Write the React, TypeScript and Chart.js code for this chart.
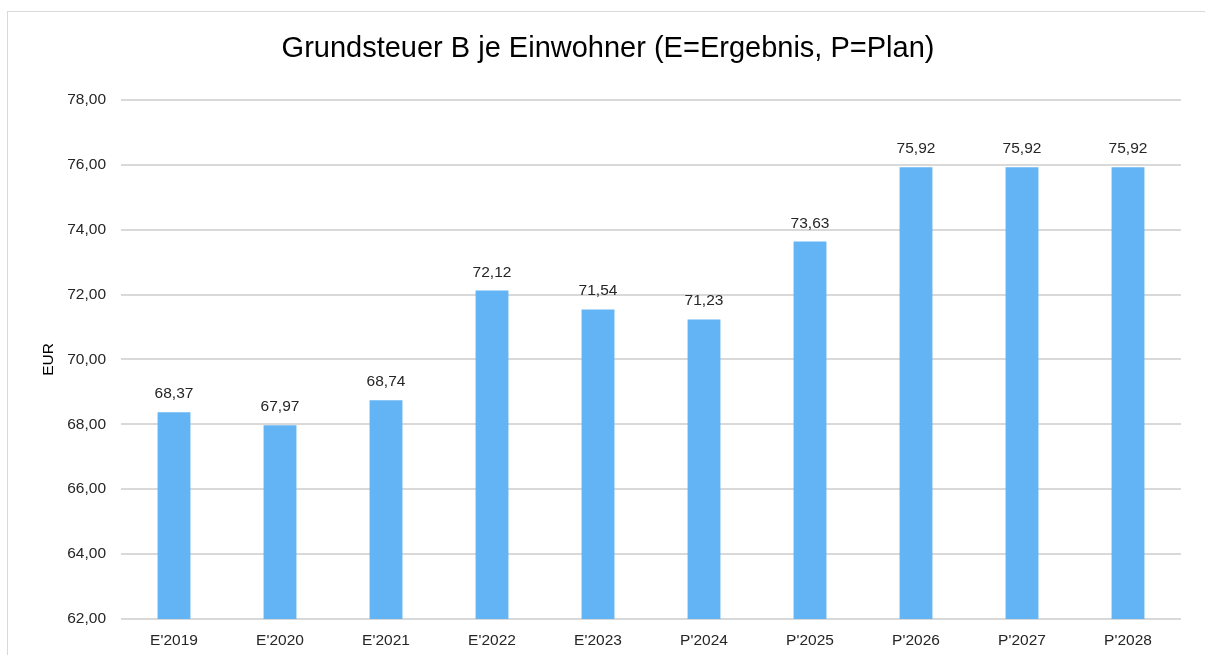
import React, { useEffect, useRef } from "react";
import { Chart, registerables } from "chart.js";

Chart.register(...registerables);

const categories = ["E'2019", "E'2020", "E'2021", "E'2022", "E'2023", "P'2024", "P'2025", "P'2026", "P'2027", "P'2028"];
const values = [68.37, 67.97, 68.74, 72.12, 71.54, 71.23, 73.63, 75.92, 75.92, 75.92];
const titleText = "Grundsteuer B je Einwohner (E=Ergebnis, P=Plan)";
const yAxisTitle = "EUR";
const yMin = 62;
const yMax = 78;
const yStep = 2;

const FONT = "'Liberation Sans', Arial, sans-serif";
const SMALL = 15.5;
const fmt = (v: number) => v.toFixed(2).replace(".", ",");

const framePlugin = {
  id: "frame",
  beforeDraw(chart: any) {
    const ctx = chart.ctx;
    ctx.save();
    ctx.fillStyle = "#ffffff";
    ctx.fillRect(0, 0, chart.width, chart.height);
    ctx.strokeStyle = "#d9d9d9";
    ctx.lineWidth = 1;
    ctx.strokeRect(7.5, 11.5, chart.width + 10, chart.height + 10);
    ctx.restore();
  },
};

const labelPlugin = {
  id: "valueLabels",
  afterDatasetsDraw(chart: any) {
    const ctx = chart.ctx;
    const meta = chart.getDatasetMeta(0);
    ctx.save();
    ctx.font = `${SMALL}px ${FONT}`;
    ctx.fillStyle = "#262626";
    ctx.textAlign = "center";
    ctx.textBaseline = "alphabetic";
    meta.data.forEach((bar: any, i: number) => {
      ctx.fillText(fmt(values[i]), bar.x, bar.y - 14);
    });
    ctx.restore();
  },
};

export default function App() {
  const ref = useRef<HTMLCanvasElement>(null);
  useEffect(() => {
    document.body.style.margin = "0";
    const chart = new Chart(ref.current!, {
      type: "bar",
      data: {
        labels: categories,
        datasets: [
          {
            data: values,
            backgroundColor: "#63b4f5",
            barPercentage: 0.31,
            categoryPercentage: 1,
          },
        ],
      },
      options: {
        responsive: false,
        animation: false,
        layout: { padding: { left: 35, right: 24, top: 0, bottom: 0 } },
        plugins: {
          legend: { display: false },
          tooltip: { enabled: false },
          title: {
            display: true,
            text: titleText,
            color: "#000000",
            font: { family: FONT, size: 29, weight: "normal" },
            padding: { top: 32, bottom: 33 },
          },
        },
        scales: {
          x: {
            grid: { display: false },
            border: { display: false },
            ticks: {
              color: "#262626",
              font: { family: FONT, size: SMALL },
              padding: 4,
              maxRotation: 0,
            },
            afterFit(scale: any) {
              scale.height = 36;
            },
          },
          y: {
            min: yMin,
            max: yMax,
            grid: { color: "#d9d9d9", lineWidth: 2, drawTicks: false },
            border: { display: false },
            ticks: {
              stepSize: yStep,
              color: "#262626",
              font: { family: FONT, size: SMALL },
              padding: 15,
              callback: (v: any) => fmt(Number(v)),
            },
            title: {
              display: true,
              text: yAxisTitle,
              color: "#000000",
              font: { family: FONT, size: SMALL },
              padding: { top: 4, bottom: 0 },
            },
            afterFit(scale: any) {
              scale.width = 86;
            },
          },
        },
      },
      plugins: [framePlugin, labelPlugin],
    });
    return () => chart.destroy();
  }, []);
  return <canvas ref={ref} width={1205} height={655} style={{ display: "block" }} />;
}
